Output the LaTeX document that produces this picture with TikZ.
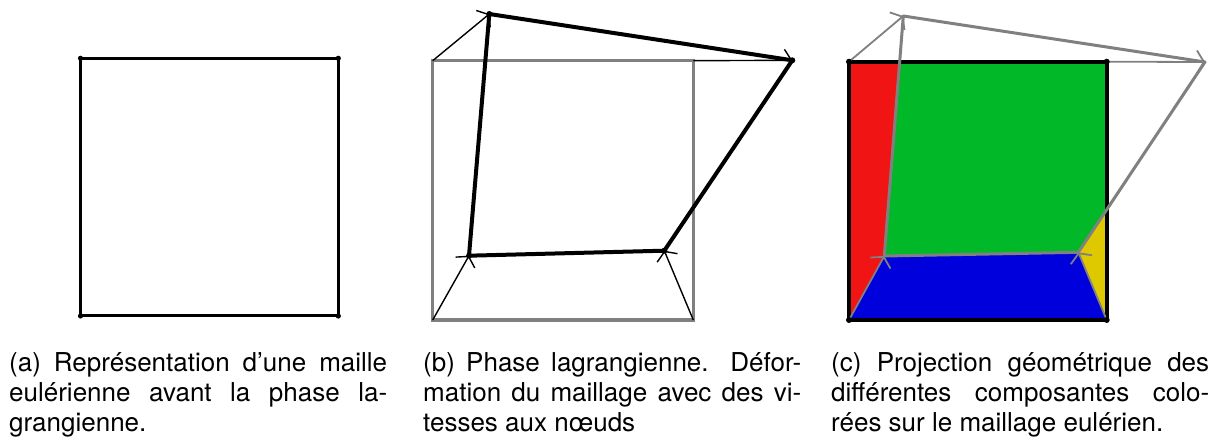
\documentclass[tikz,border=0pt]{standalone}
\usepackage{fontspec}
\setmainfont{TeX Gyre Heros}
\usetikzlibrary{calc,arrows.meta}
\definecolor{cred}{RGB}{240,20,20}
\definecolor{cgreen}{RGB}{0,184,40}
\definecolor{cblue}{RGB}{0,0,220}
\definecolor{cyellow}{RGB}{222,200,0}
\definecolor{mgray}{RGB}{128,128,128}
\tikzset{
  captext/.style={anchor=base west, text width=378pt, align=justify, inner sep=0pt,
    font=\fontsize{26}{30}\selectfont},
  eulbox/.style={line width=3pt, black, line join=miter},
  oldbox/.style={line width=3.3pt, mgray},
  lagbox/.style={line width=4pt, black, line join=round},
  lagboxg/.style={line width=3pt, mgray, line join=round},
  vel/.style={-{Straight Barb[length=7pt, width=22pt]}, line width=1.4pt, black},
  velg/.style={-{Straight Barb[length=7pt, width=23pt]}, line width=1.8pt, mgray},
  nodedot/.style={fill=black}
}
\begin{document}
\begin{tikzpicture}[x=1pt,y=-1pt]
\useasboundingbox (0,0) rectangle (1221,438);
% ---------- panel (a)
\coordinate (a1) at (80.5,58.3);
\coordinate (a2) at (338.3,58.3);
\coordinate (a3) at (338.3,316);
\coordinate (a4) at (80.5,316);
\draw[eulbox] (a1)--(a2)--(a3)--(a4)--cycle;
\foreach \p in {a1,a2,a3,a4} \fill[nodedot] (\p) circle (2.6);
% ---------- panel (b)
\coordinate (b1) at (432.7,60.7);
\coordinate (b2) at (693.3,60.7);
\coordinate (b3) at (693.3,320);
\coordinate (b4) at (432.7,320);
\coordinate (p1) at (489.3,14);
\coordinate (p2) at (792.3,60.3);
\coordinate (p3) at (664.3,250.7);
\coordinate (p4) at (469,255.7);
\draw[oldbox] (b1)--(b2)--(b3)--(b4)--cycle;
\draw[vel] (b1)--(p1);
\draw[vel] (b2)--(p2);
\draw[vel] (b3)--(p3);
\draw[vel] (b4)--(p4);
\draw[lagbox] (p1)--(p2)--(p3)--(p4)--cycle;
\foreach \p in {p1,p2,p3,p4} \fill[nodedot] (\p) circle (3);
% ---------- panel (c)
\coordinate (c1) at (849,61.7);
\coordinate (c2) at (1106.7,61.7);
\coordinate (c3) at (1106.7,320);
\coordinate (c4) at (849,320);
\coordinate (q1) at (903.3,16);
\coordinate (q2) at (1205,62);
\coordinate (q3) at (1078.3,252.3);
\coordinate (q4) at (884.3,256);
\coordinate (it) at (intersection of q4--q1 and c1--c2);
\coordinate (ir) at (intersection of q3--q2 and c2--c3);
\fill[cred] (c1)--(it)--(q4)--(c4)--cycle;
\fill[cgreen] (it)--(c2)--(ir)--(q3)--(q4)--cycle;
\fill[cblue] (q4)--(q3)--(c3)--(c4)--cycle;
\fill[cyellow] (q3)--(ir)--(c3)--cycle;
\draw[eulbox, line width=4pt] (c1)--(c2)--(c3)--(c4)--cycle;
\draw[velg] (c1)--(q1);
\draw[velg] (c2)--(q2);
\draw[velg] (c3)--(q3);
\draw[velg] (c4)--(q4);
\draw[lagboxg] (q1)--(q2)--(q3)--(q4)--cycle;
\foreach \p in {c1,c2,c3,c4} \fill[nodedot] (\p) circle (3);
% ---------- captions
\node[captext] (capa) at (9,371.7) {(a) Représentation d’une maille\linebreak eulérienne avant la phase la-\linebreak grangienne.};
\node[captext] (capb) at (423,371.7) {(b) Phase lagrangienne. Défor-\linebreak mation du maillage avec des vi-\linebreak tesses aux nœuds};
\node[captext] (capc) at (831,371.7) {(c) Projection géométrique des\linebreak différentes composantes colo-\linebreak rées sur le maillage eulérien.};
\end{tikzpicture}
\end{document}
